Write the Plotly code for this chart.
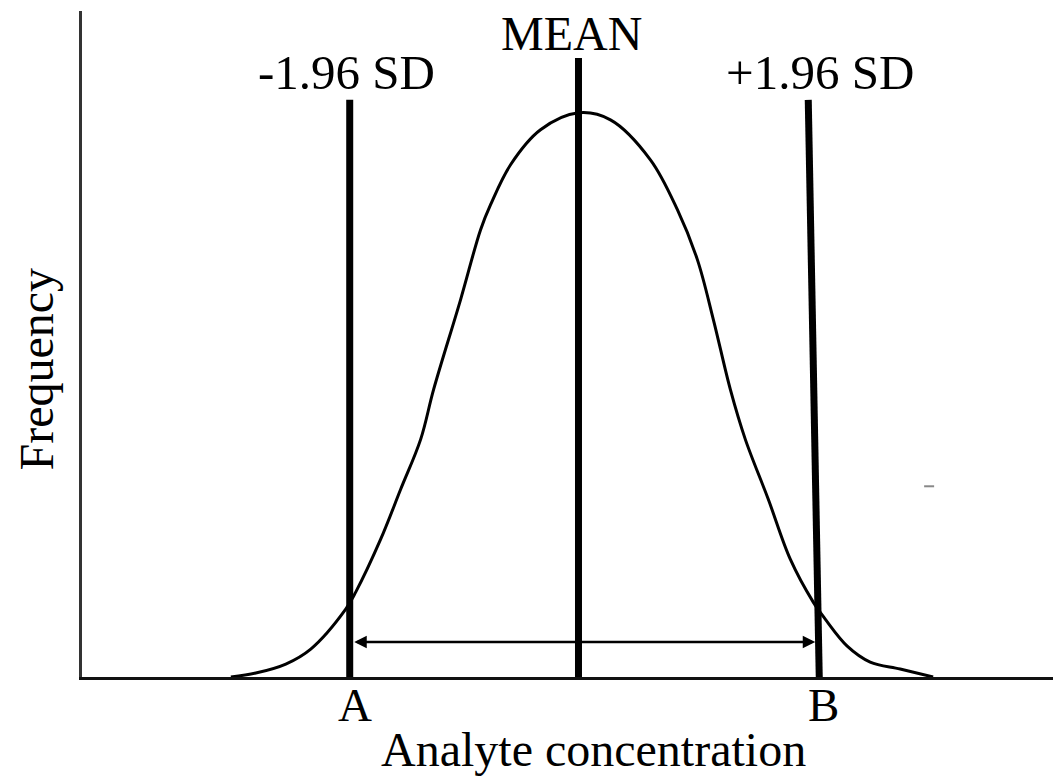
import plotly.graph_objects as go

# Bell curve (arbitrary concentration units / frequency units)
curve_x = [149, 174, 204, 229, 264, 274, 299, 319, 339, 352, 379, 399, 409, 429, 459,
           497, 529, 569, 596, 616, 632, 649, 664, 687, 709, 732, 744, 766, 789, 819, 852]
curve_y = [0, 4, 13, 28, 68, 85, 138, 188, 238, 288, 378, 448, 473, 513, 548,
           565, 558, 518, 468, 418, 358, 288, 238, 178, 118, 75, 58, 31, 15, 8, 0]

# Reference lines: (label, x at bottom, x at top, top height)
lower_line = {"label": "-1.96 SD", "x0": 268, "x1": 268, "top": 578}
mean_line = {"label": "MEAN", "x0": 497, "x1": 497, "top": 620}
upper_line = {"label": "+1.96 SD", "x0": 738, "x1": 727, "top": 578}

# Range arrow between A and B
arrow_y = 35
arrow_x = [271, 734]
point_labels = ["A", "B"]
point_x = [273, 742]

x_range = [0, 972]
y_range = [0, 667]

FONT = "Liberation Serif, Times New Roman, serif"

fig = go.Figure()

fig.add_trace(go.Scatter(x=curve_x, y=curve_y, mode="lines",
                         line=dict(color="black", width=3, shape="spline", smoothing=1.0),
                         hoverinfo="skip", showlegend=False))

for ln in (lower_line, mean_line, upper_line):
    fig.add_trace(go.Scatter(x=[ln["x0"], ln["x1"]], y=[0, ln["top"]], mode="lines",
                             line=dict(color="black", width=7),
                             hoverinfo="skip", showlegend=False))

# small stray mark
fig.add_trace(go.Scatter(x=[843, 853], y=[191, 191], mode="lines",
                         line=dict(color="#888888", width=2),
                         hoverinfo="skip", showlegend=False))

ann = []
# double-headed arrow
ann.append(dict(x=arrow_x[1], y=arrow_y, ax=arrow_x[0], ay=arrow_y,
                xref="x", yref="y", axref="x", ayref="y", text="",
                showarrow=True, arrowhead=2, startarrowhead=2, arrowside="end+start",
                arrowsize=1, startarrowsize=1, arrowwidth=2.5, arrowcolor="black",
                standoff=0, startstandoff=0))

label_pos = [(lower_line["label"], 265, 605), (mean_line["label"], 490, 644),
             (upper_line["label"], 739, 605)]
for t, x, y in label_pos:
    ann.append(dict(x=x, y=y / y_range[1], xref="x", yref="paper", text=t, showarrow=False,
                    font=dict(family=FONT, size=49 if "SD" in t else 48, color="black"),
                    xanchor="center", yanchor="middle"))

for t, x in zip(point_labels, point_x):
    ann.append(dict(x=x, y=-28 / y_range[1], xref="x", yref="paper", text=t, showarrow=False,
                    font=dict(family=FONT, size=47, color="black"),
                    xanchor="center", yanchor="middle"))

ann.append(dict(x=512, y=-73 / y_range[1], xref="x", yref="paper", text="Analyte concentration",
                showarrow=False, font=dict(family=FONT, size=48, color="black"),
                xanchor="center", yanchor="middle"))
ann.append(dict(x=-46 / x_range[1], y=308, xref="paper", yref="y", text="Frequency", textangle=-90,
                showarrow=False, font=dict(family=FONT, size=48, color="black"),
                xanchor="center", yanchor="middle"))

fig.update_layout(
    width=1053, height=781,
    margin=dict(l=82, r=0, t=11, b=104),
    paper_bgcolor="white", plot_bgcolor="white",
    showlegend=False,
    annotations=ann,
    xaxis=dict(range=x_range, showgrid=False, zeroline=False, showticklabels=False,
               ticks="", showline=True, linecolor="#111111", linewidth=3, fixedrange=True),
    yaxis=dict(range=y_range, showgrid=False, zeroline=False, showticklabels=False,
               ticks="", showline=True, linecolor="#333333", linewidth=3, fixedrange=True),
)

fig.write_html("out.html", config={"displayModeBar": False},
               post_script="document.body.style.margin='0';"
                           "document.documentElement.style.overflow='hidden';")
